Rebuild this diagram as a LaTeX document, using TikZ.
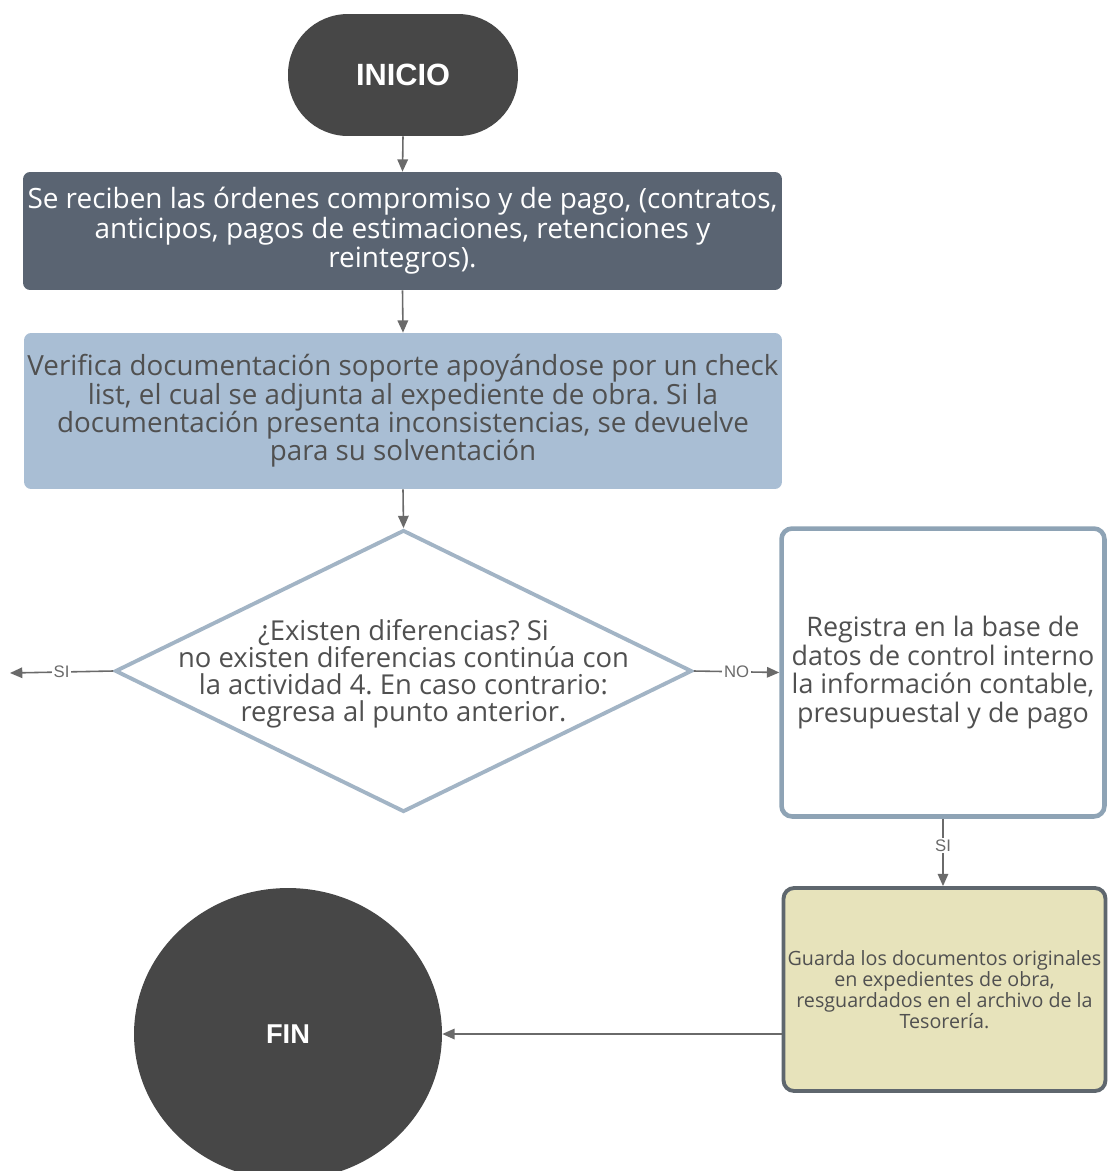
\documentclass[tikz,border=0pt]{standalone}
\usepackage{fontspec}
\setmainfont{Open Sans}
\newfontfamily\termfont{Liberation Sans}
\usetikzlibrary{shapes.geometric,arrows.meta}
\definecolor{termgray}{HTML}{474747}
\definecolor{boxdark}{HTML}{5A6472}
\definecolor{boxlight}{HTML}{A9BED4}
\definecolor{txtgray}{HTML}{505050}
\definecolor{diaborder}{HTML}{A2B4C5}
\definecolor{regborder}{HTML}{8EA3B5}
\definecolor{yelfill}{HTML}{E7E3BB}
\definecolor{yelborder}{HTML}{5F676E}
\definecolor{arrgray}{HTML}{6A6A6A}
\frenchspacing
\begin{document}
\begin{tikzpicture}[x=0.02cm,y=-0.02cm,
  terminal/.style={fill=termgray, text=white, font=\termfont\bfseries\fontsize{17.5}{20}\selectfont, inner sep=0pt},
  procbox/.style={rectangle, rounded corners=4pt, align=center, inner sep=0pt},
  arr/.style={draw=arrgray, line width=0.9pt, -{Triangle[length=7pt,width=6pt]}},
  lbl/.style={fill=white, text=arrgray, font=\termfont\fontsize{9.5}{11}\selectfont, inner sep=1pt}
]
\useasboundingbox (0,0) rectangle (1107,1171);
\fill[white] (0,0) rectangle (1107,1171);

% INICIO
\node[terminal, rectangle, rounded corners=1.2cm, minimum width=4.6cm, minimum height=2.44cm] (inicio) at (403,75) {INICIO};

% Box 1
\node[procbox, fill=boxdark, text=white, minimum width=15.18cm, minimum height=2.36cm,
  font=\fontsize{15.9}{16.8}\selectfont] (recibe) at (402.5,231)
  {Se reciben las órdenes compromiso y de pago, (contratos,\\anticipos, pagos de estimaciones, retenciones y\\reintegros).};

% Box 2
\node[procbox, fill=boxlight, text=txtgray, minimum width=15.16cm, minimum height=3.12cm,
  font=\fontsize{15.8}{16.1}\selectfont] (verifica) at (403,411)
  {Verifica documentación soporte apoyándose por un check\\list, el cual se adjunta al expediente de obra. Si la\\documentación presenta inconsistencias, se devuelve\\para su solventación};

% Decision
\node[diamond, draw=diaborder, fill=white, line width=2.2pt, inner sep=0pt,
  minimum width=11.54cm, minimum height=5.64cm] (dec) at (403.5,671) {};
\node[align=center, text=txtgray, font=\fontsize{15.6}{15.4}\selectfont] (dectext) at (403.5,673.5)
  {¿Existen diferencias? Si\\no existen diferencias continúa con\\la actividad 4. En caso contrario:\\regresa al punto anterior.};

% Box 3
\node[procbox, draw=regborder, line width=2.6pt, fill=white, text=txtgray, rounded corners=6pt,
  minimum width=6.46cm, minimum height=5.76cm,
  font=\fontsize{15.3}{16.2}\selectfont] (registra) at (943,672.5)
  {Registra en la base de\\datos de control interno\\la información contable,\\presupuestal y de pago};

% Box 4
\node[procbox, draw=yelborder, line width=2.2pt, fill=yelfill, text=txtgray, rounded corners=6pt,
  minimum width=6.44cm, minimum height=4.06cm,
  font=\fontsize{11.2}{12}\selectfont] (guarda) at (944.5,989.5)
  {Guarda los documentos originales\\en expedientes de obra,\\resguardados en el archivo de la\\Tesorería.};

% FIN
\node[terminal, ellipse, minimum width=6.16cm, minimum height=5.84cm,
  font=\termfont\bfseries\fontsize{15.5}{18}\selectfont] (fin) at (288,1034) {FIN};

\coordinate (leftend) at (10,673);

% Connectors
\draw[arr] (inicio.south) -- (recibe.north);
\draw[arr] (recibe.south) -- (verifica.north);
\draw[arr] (verifica.south) -- (dec.north);
\draw[arr] (dec.west) -- node[lbl]{SI} (leftend);
\draw[arr] (dec.east) -- node[lbl]{NO} (registra.west);
\draw[arr] (registra.south) -- node[lbl, pos=0.4]{SI} (registra.south |- guarda.north);
\draw[arr] (fin.east -| guarda.west) -- (fin.east);
\end{tikzpicture}
\end{document}
